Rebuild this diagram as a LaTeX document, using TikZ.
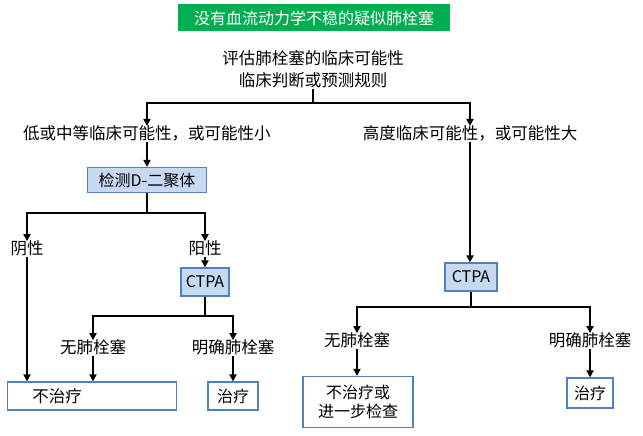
\documentclass[tikz,border=0pt]{standalone}
\usepackage{fontspec}
\setmainfont{Noto Sans CJK SC}
\usetikzlibrary{arrows.meta}
\usetikzlibrary{positioning}
\definecolor{titlegreen}{HTML}{00B050}
\definecolor{boxblue}{HTML}{4F81BD}
\definecolor{boxfill}{HTML}{C6D9F1}
\tikzset{
  txt/.style={inner sep=1pt,font=\fontsize{16.5}{20}\selectfont},
  testbox/.style={draw=boxblue,fill=boxfill,line width=1.2pt,inner sep=0pt,font=\fontsize{16}{19}\selectfont},
  endbox/.style={draw=boxblue,fill=white,line width=1.2pt,inner sep=0pt,font=\fontsize{16}{19}\selectfont},
  arr/.style={line width=1.8pt,-{Triangle[length=7pt,width=7pt]}},
  ln/.style={line width=1.8pt}
}
\begin{document}
\begin{tikzpicture}[x=1pt,y=-1pt]
        \useasboundingbox (0,0) rectangle (643,436);

        \node[fill=titlegreen,text=white,minimum width=272pt,minimum height=27pt,inner sep=0pt,font=\fontsize{16}{19}\selectfont] (title) at (314,18) {没有血流动力学不稳的疑似肺栓塞};

        \node[txt] (assess) at (313,58) {评估肺栓塞的临床可能性};
        \node[txt] (rule) at (313,80) {临床判断或预测规则};

        \node[txt] (low) at (147,133) {低或中等临床可能性，或可能性小};
        \node[txt] (high) at (470,133) {高度临床可能性，或可能性大};

        \node[testbox,minimum width=119pt,minimum height=25pt] (dd) at (147,180) {检测D-二聚体};
        \node[txt] (neg) at (27,248) {阴性};
        \node[txt] (pos) at (205,248) {阳性};
        \node[testbox,minimum width=48pt,minimum height=28pt] (ctpaL) at (205,282) {CTPA};
        \node[txt] (noL) at (93,347) {无肺栓塞};
        \node[txt] (yesL) at (233,347) {明确肺栓塞};
        \node[endbox,minimum width=169pt,minimum height=28pt] (notreatL) at (92,396) {};
        \node[txt] at (57,396) {不治疗};
        \node[endbox,minimum width=50pt,minimum height=28pt] (treatL) at (233,396) {治疗};

        \node[testbox,minimum width=52pt,minimum height=28pt] (ctpaR) at (471,277) {CTPA};
        \node[txt] (noR) at (357,340) {无肺栓塞};
        \node[txt] (yesR) at (590,340) {明确肺栓塞};
        \node[endbox,minimum width=110pt,minimum height=51pt,align=center] (notreatR) at (358,402) {不治疗或\\进一步检查};
        \node[endbox,minimum width=46pt,minimum height=30pt] (treatR) at (590,393) {治疗};

        % top split
        \coordinate (s1) at (313,103);
        \draw[ln] (rule.south) -- (s1);
        \draw[arr] (s1) -| ([yshift=-2pt]low.north);
        \draw[arr] (s1) -| ([yshift=-2pt]high.north);

        % left branch
        \draw[arr] (low.south) -- (dd.north);
        \coordinate (s2) at (147,213);
        \draw[ln] (dd.south) -- (s2);
        \draw[arr] (s2) -| ([yshift=-2pt]neg.north);
        \draw[arr] (s2) -| ([yshift=-2pt]pos.north);
        \draw[arr] (neg.south) -- (neg.south |- notreatL.north);
        \draw[arr] (pos.south) -- (ctpaL.north);
        \coordinate (s3) at (205,316);
        \draw[ln] (ctpaL.south) -- (s3);
        \draw[arr] (s3) -| ([yshift=-2pt]noL.north);
        \draw[arr] (s3) -| ([yshift=-2pt]yesL.north);
        \draw[arr] (noL.south) -- (noL.south |- notreatL.north);
        \draw[arr] (yesL.south) -- (treatL.north);

        % right branch
        \draw[arr] (high.south) -- (high.south |- ctpaR.north);
        \coordinate (s4) at (471,307);
        \draw[ln] (ctpaR.south) -- (s4);
        \draw[arr] (s4) -| ([yshift=-2pt]noR.north);
        \draw[arr] (s4) -| ([yshift=-2pt]yesR.north);
        \draw[arr] (noR.south) -- (noR.south |- notreatR.north);
        \draw[arr] (yesR.south) -- (treatR.north);
\end{tikzpicture}
\end{document}
